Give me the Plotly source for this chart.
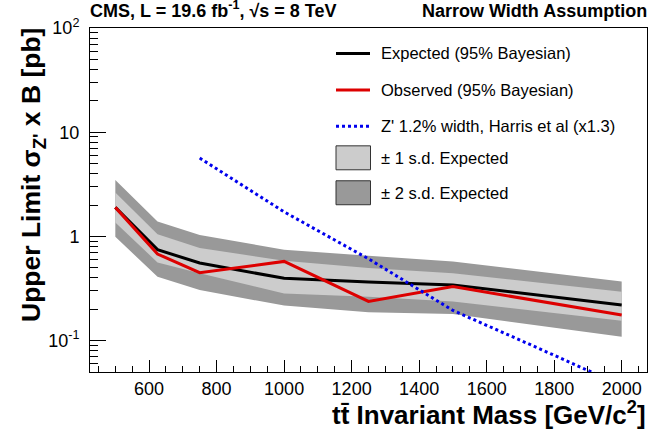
import math
import plotly.graph_objects as go

# ---------------- data ----------------
mass = [500, 625, 750, 1000, 1250, 1500, 2000]
expected = [1.90, 0.746, 0.556, 0.396, 0.366, 0.342, 0.220]
observed = [1.90, 0.678, 0.449, 0.576, 0.238, 0.330, 0.176]
exp_plus1 = [2.64, 1.05, 0.774, 0.585, 0.498, 0.442, 0.295]
exp_minus1 = [1.36, 0.563, 0.442, 0.284, 0.264, 0.237, 0.155]
exp_plus2 = [3.47, 1.39, 1.03, 0.745, 0.653, 0.576, 0.370]
exp_minus2 = [0.99, 0.411, 0.306, 0.217, 0.187, 0.180, 0.109]
zp_mass = [750, 1000, 1250, 1500, 1750, 2000]
zp_xsec = [5.65, 1.72, 0.61, 0.195, 0.0855, 0.037]

y_tickvals = [0.1, 1, 10, 100]
y_ticktext = ["10<sup>-1</sup>", "1", "10", "10<sup>2</sup>"]
legend_labels = ["Expected (95% Bayesian)", "Observed (95% Bayesian)",
                 "Z' 1.2% width, Harris et al (x1.3)",
                 "\u00b1 1 s.d. Expected", "\u00b1 2 s.d. Expected"]

FONT = "Liberation Sans, Arial, Helvetica, sans-serif"
W, H = 658, 437
L, R, T, B = 90, 647, 28, 372.5


def fx(px):
    return (px - L) / (R - L)


def fy(py):
    return (B - py) / (B - T)


fig = go.Figure()

# +-2 sigma band
fig.add_trace(go.Scatter(
    x=mass + mass[::-1], y=exp_plus2 + exp_minus2[::-1],
    fill="toself", fillcolor="#999999", line=dict(width=0),
    mode="lines", showlegend=False, hoverinfo="skip"))
# +-1 sigma band
fig.add_trace(go.Scatter(
    x=mass + mass[::-1], y=exp_plus1 + exp_minus1[::-1],
    fill="toself", fillcolor="#cccccc", line=dict(width=0),
    mode="lines", showlegend=False, hoverinfo="skip"))
# expected
fig.add_trace(go.Scatter(x=mass, y=expected, mode="lines",
                         line=dict(color="black", width=3), showlegend=False))
# observed
fig.add_trace(go.Scatter(x=mass, y=observed, mode="lines",
                         line=dict(color="#dd0000", width=3), showlegend=False))
# Z'
fig.add_trace(go.Scatter(x=zp_mass, y=zp_xsec, mode="lines",
                         line=dict(color="#0000ee", width=3, dash="dot"),
                         showlegend=False))

# ---------------- manual legend ----------------
shapes = []
annotations = []
line_rows = [(53.5, "black", "solid"), (90, "#dd0000", "solid"), (126.5, "#0000ee", "dot")]
for (yy, col, dash), lab in zip(line_rows, legend_labels[:3]):
    shapes.append(dict(type="line", xref="paper", yref="paper",
                       x0=fx(336), x1=fx(370), y0=fy(yy), y1=fy(yy),
                       line=dict(color=col, width=3, dash=dash)))
    annotations.append(dict(xref="paper", yref="paper", x=fx(379), y=fy(yy),
                            xanchor="left", yanchor="middle", text=lab,
                            showarrow=False, font=dict(family=FONT, size=16.5, color="black")))
box_rows = [(146, 170, "#cccccc"), (181, 205, "#999999")]
for (y0, y1, col), lab in zip(box_rows, legend_labels[3:]):
    shapes.append(dict(type="rect", xref="paper", yref="paper",
                       x0=fx(336), x1=fx(370.5), y0=fy(y1), y1=fy(y0),
                       fillcolor=col, line=dict(color="#333333", width=1)))
    annotations.append(dict(xref="paper", yref="paper", x=fx(379), y=fy((y0 + y1) / 2),
                            xanchor="left", yanchor="middle", text=lab,
                            showarrow=False, font=dict(family=FONT, size=16.5, color="black")))

# ---------------- header / axis titles ----------------
annotations.append(dict(xref="paper", yref="paper", x=fx(88), y=fy(23),
                        xanchor="left", yanchor="bottom",
                        text="<b>CMS, L = 19.6 fb<sup>-1</sup>, \u221as = 8 TeV</b>",
                        showarrow=False, font=dict(family=FONT, size=18, color="black")))
annotations.append(dict(xref="paper", yref="paper", x=fx(649), y=fy(23),
                        xanchor="right", yanchor="bottom",
                        text="<b>Narrow Width Assumption</b>",
                        showarrow=False, font=dict(family=FONT, size=18, color="black")))
annotations.append(dict(xref="paper", yref="paper", x=fx(648), y=fy(396),
                        xanchor="right", yanchor="top",
                        text="<b>tt\u0304 Invariant Mass [GeV/c<sup>2</sup>]</b>",
                        showarrow=False, font=dict(family=FONT, size=26, color="black")))
annotations.append(dict(xref="paper", yref="paper", x=fx(14), y=fy(26),
                        xanchor="left", yanchor="top", textangle=-90,
                        text="<b>Upper Limit \u03c3<sub>Z'</sub> x B [pb]</b>",
                        showarrow=False, font=dict(family=FONT, size=26.5, color="black")))

fig.update_layout(
    width=W, height=H,
    margin=dict(l=L, r=W - R, t=T, b=H - B, pad=0),
    paper_bgcolor="white", plot_bgcolor="white",
    showlegend=False,
    shapes=shapes, annotations=annotations,
    font=dict(family=FONT, size=18, color="black"),
)
fig.update_xaxes(
    range=[425, 2075], showgrid=False, zeroline=False,
    showline=True, linecolor="black", linewidth=1, mirror=True,
    ticks="inside", ticklen=12, tickcolor="black", tickwidth=1,
    tick0=0, dtick=200,
    minor=dict(ticks="inside", ticklen=6, tick0=0, dtick=50, tickcolor="black", showgrid=False),
    tickfont=dict(family=FONT, size=18, color="black"),
)
minor_y = [m * 10 ** e for e in (-2, -1, 0, 1) for m in range(2, 10) if 0.05 <= m * 10 ** e <= 100]
fig.update_yaxes(
    type="log", range=[math.log10(0.05), 2], showgrid=False, zeroline=False,
    showline=True, linecolor="black", linewidth=1, mirror=True,
    ticks="inside", ticklen=16, tickcolor="black", tickwidth=1,
    tickmode="array", tickvals=y_tickvals, ticktext=y_ticktext,
    minor=dict(ticks="inside", ticklen=8, tickmode="array", tickvals=minor_y,
               tickcolor="black", showgrid=False),
    tickfont=dict(family=FONT, size=18, color="black"),
    ticklabelstandoff=6,
)

fig.write_html("out.html", config={"displayModeBar": False},
               post_script="document.body.style.margin='0px';document.body.style.padding='0px';")
